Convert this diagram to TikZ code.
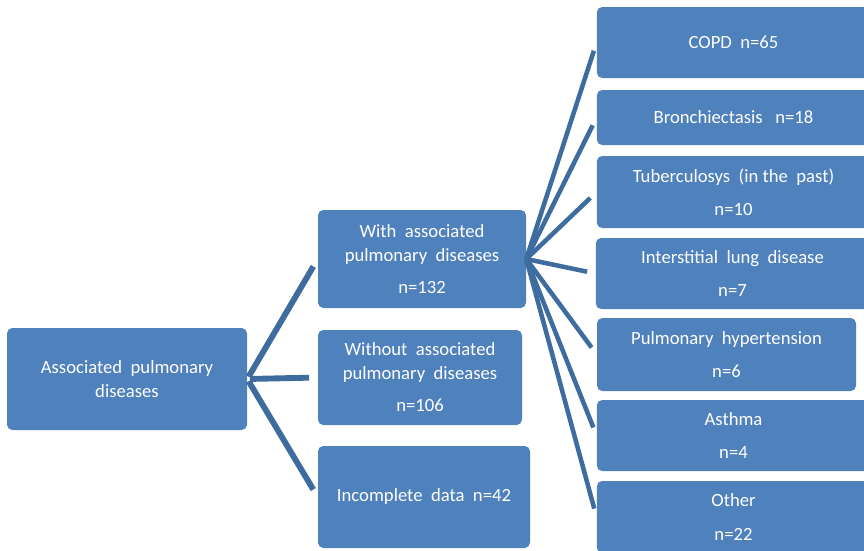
\documentclass[tikz,border=0pt]{standalone}
\usepackage{fontspec}
\setmainfont{Carlito}
\usepackage{xcolor}
\definecolor{boxblue}{HTML}{4F81BD}
\definecolor{linkblue}{HTML}{3F6C9F}
\usepackage{tikz}
\usetikzlibrary{positioning}

\begin{document}
\begin{tikzpicture}[x=0.75pt, y=-0.75pt,
	box/.style={rectangle, rounded corners=4pt, fill=boxblue, text=white, align=center,
	            font=\fontsize{14}{18}\selectfont, inner sep=2pt},
	side/.style={box, minimum width=205pt, minimum height=53.25pt},
	link/.style={draw=linkblue, line width=4.4pt, shorten >=6.5pt}
	]
	\useasboundingbox (0,0) rectangle (864,550);
	\clip (0,0) rectangle (864,550);

	% left and middle column
	\node[box, minimum width=180pt, minimum height=76.5pt] (root) at (127,379)
		{Associated\ \ pulmonary\\diseases};
	\node[box, minimum width=156pt, minimum height=73.5pt] (with) at (422,259)
		{With\ \ associated\\pulmonary\ \ diseases\\[6pt]n=132};
	\node[box, minimum width=153pt, minimum height=71.25pt] (without) at (420,377.5)
		{Without\ \ associated\\pulmonary\ \ diseases\\[6pt]n=106};
	\node[box, minimum width=159pt, minimum height=76.5pt] (incomplete) at (424,497)
		{Incomplete\ \ data\ \ n=42};

	% right column
	\node[side] (copd) at (733.5,42.5) {COPD\ \ n=65};
	\node[side, minimum height=41.25pt] (bronch) at (733.5,117.5) {Bronchiectasis\ \ \ n=18};
	\node[side, minimum height=54pt] (tuber) at (733.5,192) {Tuberculosys\ \ (in\ the\ \ past)\\[7pt]n=10};
	\node[side] (interst) at (732.5,273.5) {Interstitial\ \ lung\ \ disease\\[7pt]n=7};
	\node[side, minimum width=194.25pt, minimum height=54.75pt] (pulmhyp) at (726.5,354.5)
		{Pulmonary\ \ hypertension\\[7pt]n=6};
	\node[side] (asthma) at (733.5,435.5) {Asthma\\[7pt]n=4};
	\node[side, minimum height=54pt] (other) at (733.5,517) {Other\\[7pt]n=22};

	\foreach \t in {with, without, incomplete}
		\draw[link, shorten <=2pt] (root.east) -- (\t.west);
	\foreach \t in {copd, bronch, tuber, interst, pulmhyp, asthma, other}
		\draw[link, line width=3.4pt] (with.east) -- (\t.west);
\end{tikzpicture}
\end{document}
